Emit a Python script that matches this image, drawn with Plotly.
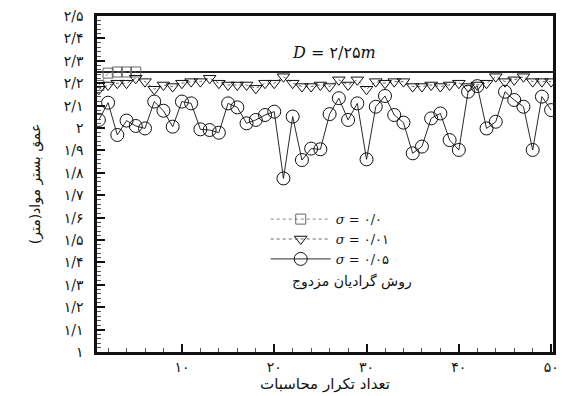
import plotly.graph_objects as go

# iteration numbers
iters = list(range(1, 51))

# bed depth (m) per iteration for each sigma
depth_s000 = [2.19, 2.245, 2.25, 2.25, 2.25]
depth_s001 = [2.173, 2.192, 2.200, 2.200, 2.222, 2.207, 2.173, 2.192, 2.185, 2.200,
              2.207, 2.207, 2.222, 2.200, 2.192, 2.192, 2.192, 2.177, 2.200, 2.200,
              2.229, 2.200, 2.185, 2.185, 2.192, 2.185, 2.215, 2.192, 2.215, 2.173,
              2.207, 2.200, 2.207, 2.207, 2.185, 2.185, 2.192, 2.185, 2.192, 2.200,
              2.185, 2.192, 2.200, 2.229, 2.207, 2.215, 2.229, 2.207, 2.207, 2.207]
depth_s005 = [2.036, 2.113, 1.969, 2.033, 2.009, 1.998, 2.118, 2.077, 2.006, 2.118,
              2.110, 1.994, 1.991, 1.979, 2.110, 2.092, 2.021, 2.036, 2.058, 2.073,
              1.775, 2.051, 1.857, 1.908, 1.905, 2.062, 2.133, 2.036, 2.110, 1.860,
              2.095, 2.143, 2.058, 2.024, 1.887, 1.917, 2.043, 2.065, 1.946, 1.902,
              2.162, 2.187, 1.998, 2.028, 2.162, 2.125, 2.095, 1.902, 2.140, 2.080]

D_value = 2.25

y_ticks = [1.0 + 0.1 * i for i in range(16)]
y_labels = ["۱", "۱/۱", "۱/۲", "۱/۳", "۱/۴", "۱/۵", "۱/۶", "۱/۷", "۱/۸", "۱/۹",
            "۲", "۲/۱", "۲/۲", "۲/۳", "۲/۴", "۲/۵"]
x_ticks = [10, 20, 30, 40, 50]
x_labels = ["۱۰", "۲۰", "۳۰", "۴۰", "۵۰"]

FONT = "DejaVu Serif, DejaVu Sans, serif"
SANS = "DejaVu Sans, sans-serif"

fig = go.Figure()

# reference depth line
fig.add_trace(go.Scatter(
    x=[0.8, 50.2], y=[D_value, D_value], mode="lines",
    line=dict(color="#222", width=2.2), showlegend=False, hoverinfo="skip"))

fig.add_trace(go.Scatter(
    x=iters[:len(depth_s000)], y=depth_s000, mode="lines+markers",
    name="<i>σ</i> = ۰/۰",
    line=dict(color="#777", width=0.9, dash="dot"),
    marker=dict(symbol="square-open", size=10, color="#666", line=dict(width=1))))

fig.add_trace(go.Scatter(
    x=iters, y=depth_s001, mode="lines+markers",
    name="<i>σ</i> = ۰/۰۱",
    line=dict(color="#555", width=0.9, dash="dot"),
    marker=dict(symbol="triangle-down-open", size=11, color="#111", line=dict(width=1))))

fig.add_trace(go.Scatter(
    x=iters, y=depth_s005, mode="lines+markers",
    name="<i>σ</i> = ۰/۰۵",
    line=dict(color="#111", width=0.9),
    marker=dict(symbol="circle-open", size=13, color="#111", line=dict(width=1))))

fig.add_annotation(x=26.5, y=2.335, xref="x", yref="y",
                   text="<i>D</i> = ۲/۲۵<i>m</i>", showarrow=False,
                   font=dict(family=FONT, size=16, color="#111"))
fig.add_annotation(x=0.56, y=0.18, xref="paper", yref="paper",
                   text="روش گرادیان مزدوج", showarrow=False,
                   font=dict(family=SANS, size=14, color="#111"))

fig.update_layout(
    width=563, height=396,
    margin=dict(l=97, r=4, t=16, b=44),
    plot_bgcolor="white", paper_bgcolor="white",
    font=dict(family=FONT, size=14, color="#111"),
    legend=dict(x=0.37, y=0.44, xanchor="left", yanchor="top",
                bgcolor="rgba(0,0,0,0)", borderwidth=0,
                font=dict(size=13), itemwidth=60, tracegroupgap=0),
)

fig.update_xaxes(
    range=[0.8, 50.2], tickvals=x_ticks, ticktext=x_labels,
    ticks="inside", ticklen=8, tickwidth=2, tickcolor="#111",
    minor=dict(dtick=2, ticks="inside", ticklen=4, tickwidth=1, tickcolor="#555"),
    showline=True, linewidth=2.5, linecolor="#111", mirror=True,
    showgrid=False, zeroline=False,
    title=dict(text="تعداد تکرار محاسبات", standoff=2,
               font=dict(family=SANS, size=15)),
)
fig.update_yaxes(
    range=[1.0, 2.5], tickvals=y_ticks, ticktext=y_labels,
    ticks="inside", ticklen=8, tickwidth=2, tickcolor="#111",
    ticklabelstandoff=8,
    minor=dict(dtick=0.02, ticks="inside", ticklen=4, tickwidth=1, tickcolor="#555"),
    showline=True, linewidth=2.5, linecolor="#111", mirror=True,
    showgrid=False, zeroline=False,
    title=dict(text="عمق بستر مواد(متر)", standoff=20,
               font=dict(family=SANS, size=14)),
)

fig.write_html("out.html")
